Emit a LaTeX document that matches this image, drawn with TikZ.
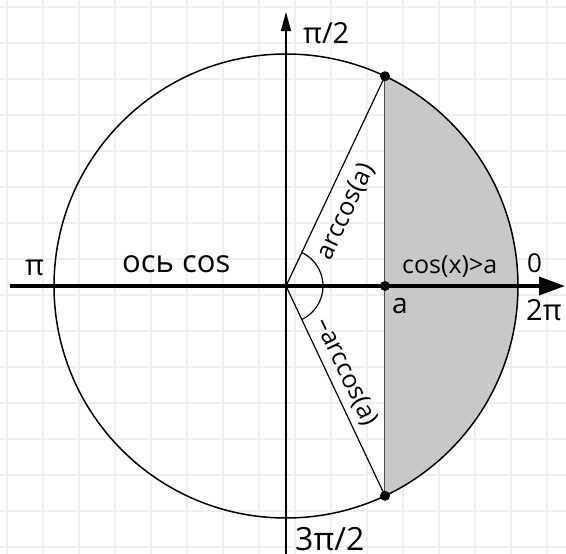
\documentclass[tikz,border=0pt]{standalone}
\usepackage{fontspec}
\setmainfont{Open Sans}
\usetikzlibrary{arrows.meta}
\definecolor{gridc}{HTML}{EEEEEE}
\definecolor{segfill}{HTML}{C8C8C8}
\begin{document}
\begin{tikzpicture}[x=1pt,y=1pt,
  gridline/.style={gridc,line width=1.5pt},
  lbl/.style={font=\fontsize{25}{30}\selectfont, inner sep=0pt, anchor=base west},
  dot/.style={circle,fill=black,inner sep=0pt,minimum size=10pt},
  thinline/.style={line width=1.2pt}]
\useasboundingbox (0,0) rectangle (566,-554);
\fill[white] (0,0) rectangle (566,-554);
\foreach \k in {0,...,15} {
  \draw[gridline] (7+36*\k,0) -- (7+36*\k,-554);
  \draw[gridline] (0,-7-36*\k) -- (566,-7-36*\k);
}
\coordinate (C) at (286,-286);
\coordinate (T) at ([shift={(64.74:232)}]C);
\coordinate (B) at ([shift={(-64.74:232)}]C);
\coordinate (A) at ([shift={(0:99)}]C);
% shaded segment
\fill[segfill] (T) arc[start angle=64.74, end angle=-64.74, radius=232] -- cycle;
\draw[black!70, line width=1pt] (T) -- (B);
% circle
\draw[line width=1.5pt] (C) circle[radius=232];
% axes
\coordinate (xl) at (10,-286);
\coordinate (xr) at (565,-286);
\coordinate (yb) at (286,-554);
\coordinate (yt) at (286,-12);
\draw[line width=1.5pt, -{Triangle[length=19pt,width=10pt]}] (yb) -- (yt);
\draw[line width=3.5pt, -{Triangle[length=26pt,width=18pt]}] (xl) -- (xr);
% radii
\draw[thinline] (C) -- node[sloped, below=11pt, pos=0.40, font=\fontsize{25}{30}\selectfont, inner sep=0pt] (lac) {arccos(a)} (T);
\draw[thinline] (C) -- node[sloped, above=6pt, pos=0.447, font=\fontsize{25}{30}\selectfont, inner sep=0pt] (lmac) {–arccos(a)} (B);
% angle arc
\draw[thinline] ([shift={(64.74:37)}]C) arc[start angle=64.74, end angle=-64.74, radius=37];
% dots
\node[dot] (dT) at (T) {};
\node[dot] (dB) at (B) {};
\node[dot] (dA) at (A) {};
% labels
\node[lbl, font=\fontsize{29}{34}\selectfont] (lpi2) at (303,-43) {π/2};
\node[lbl, font=\fontsize{29}{34}\selectfont] (lpi) at (25,-275) {π};
\node[lbl, font=\fontsize{31}{36}\selectfont] (los) at (122,-272) {ось cos};
\node[lbl] (lcx) at (402,-273) {cos(x)>a};
\node[lbl, font=\fontsize{26}{30}\selectfont] (l0) at (527,-272) {0};
\node[lbl, font=\fontsize{28}{32}\selectfont] (la) at (392,-313) {a};
\node[lbl, font=\fontsize{29}{34}\selectfont] (l2pi) at (526,-320) {2π};
\node[lbl, font=\fontsize{32}{36}\selectfont] (l3pi2) at (295,-550) {3π/2};
\end{tikzpicture}
\end{document}
